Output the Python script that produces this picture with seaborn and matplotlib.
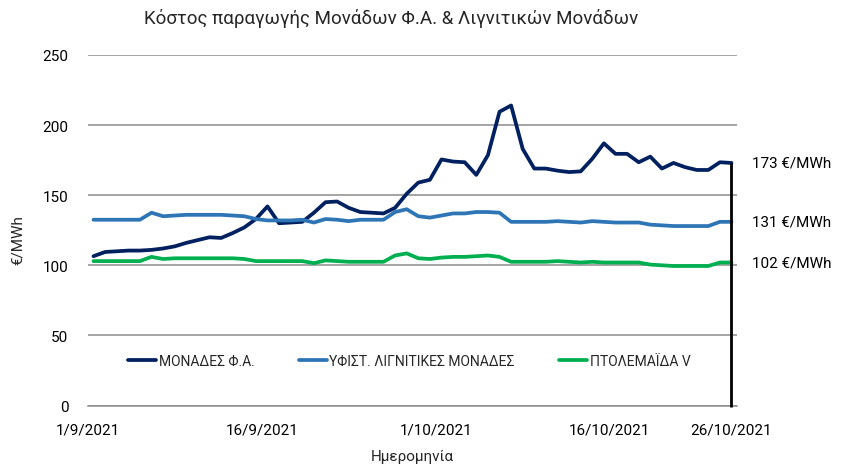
import matplotlib
matplotlib.use("Agg")
import matplotlib.pyplot as plt
import matplotlib.transforms as mtransforms
import seaborn as sns
import pandas as pd
import numpy as np

# ---------------- data ----------------
start_date = "2021-09-01"
end_date = "2021-10-26"

series_names = ["ΜΟΝΑΔΕΣ Φ.Α.", "ΥΦΙΣΤ. ΛΙΓΝΙΤΙΚΕΣ ΜΟΝΑΔΕΣ", "ΠΤΟΛΕΜΑΪΔΑ V"]

gas_units = [106.5, 109.5, 110, 110.5, 110.5, 111, 112, 113.5, 116, 118,
             120, 119.5, 123, 127, 133, 142, 130, 130.5, 131, 137.5,
             145, 145.5, 141, 138, 137.5, 137, 141, 151, 159, 161,
             175.5, 174, 173.5, 164.5, 178.5, 209.5, 214, 183, 169, 169,
             167.5, 166.5, 167, 176, 187, 179.5, 179.5, 173.5, 177.5, 169,
             173, 170, 168, 168, 173.5, 173]

lignite_units = [132.5, 132.5, 132.5, 132.5, 132.5, 137.5, 135, 135.5, 136, 136,
                 136, 136, 135.5, 135, 133, 132, 132, 132, 132.5, 130.5,
                 133, 132.5, 131.5, 132.5, 132.5, 132.5, 138, 140, 135, 134,
                 135.5, 137, 137, 138, 138, 137.5, 131, 131, 131, 131,
                 131.5, 131, 130.5, 131.5, 131, 130.5, 130.5, 130.5, 129, 128.5,
                 128, 128, 128, 128, 131, 131]

ptolemaida_v = [103, 103, 103, 103, 103, 106, 104.5, 105, 105, 105,
                105, 105, 105, 104.5, 103, 103, 103, 103, 103, 101.5,
                103.5, 103, 102.5, 102.5, 102.5, 102.5, 107, 108.5, 105, 104.5,
                105.5, 106, 106, 106.5, 107, 106, 102.5, 102.5, 102.5, 102.5,
                103, 102.5, 102, 102.5, 102, 102, 102, 102, 100.5, 100,
                99.5, 99.5, 99.5, 99.5, 102, 102]

end_labels = ["173 €/MWh", "131 €/MWh", "102 €/MWh"]
tick_dates = ["2021-09-01", "2021-09-16", "2021-10-01", "2021-10-16"]
tick_labels = ["1/9/2021", "16/9/2021", "1/10/2021", "16/10/2021", "26/10/2021"]
y_ticks = [0, 50, 100, 150, 200, 250]

title = "Κόστος παραγωγής Μονάδων Φ.Α. & Λιγνιτικών Μονάδων"
x_label = "Ημερομηνία"
y_label = "€/MWh"

colors = ["#002060", "#2E75B6", "#00B050"]

# ---------------- build frame ----------------
dates = pd.date_range(start_date, end_date, freq="D")
t0 = pd.Timestamp(start_date)
pos = (dates - t0).days.values + 0.5  # each day drawn at its centre

frames = []
for name, vals in zip(series_names, [gas_units, lignite_units, ptolemaida_v]):
    frames.append(pd.DataFrame({"pos": pos, "value": vals, "series": name}))
df = pd.concat(frames, ignore_index=True)

# ---------------- style ----------------
sns.set_theme(style="white")
plt.rcParams["font.family"] = ["Roboto", "DejaVu Sans"]

fig = plt.figure(figsize=(8.48, 4.77), dpi=100)
ax = fig.add_axes([87.7 / 848, 1 - 406.5 / 477, (737.3 - 87.7) / 848, (406.5 - 56) / 477])

sns.lineplot(data=df, x="pos", y="value", hue="series", hue_order=series_names,
             palette=colors, linewidth=2.7, ax=ax, legend=True, zorder=3)

ax.set_ylim(0, 250)
ax.set_xlim(0, 56)
ax.set_yticks(y_ticks)
ax.yaxis.grid(True, color="#8c8c8c", linewidth=1.1)
ax.xaxis.grid(False)
ax.set_axisbelow(True)

tick_pos = [(pd.Timestamp(d) - t0).days for d in tick_dates] + [pos[-1]]
ax.set_xticks(tick_pos)
ax.set_xticklabels(tick_labels)

for s in ["left", "right", "top"]:
    ax.spines[s].set_visible(False)
ax.spines["bottom"].set_color("#8c8c8c")
ax.spines["bottom"].set_linewidth(1.1)

ax.tick_params(axis="x", direction="inout", length=9, width=1.0, color="#8c8c8c",
               labelsize=11, pad=8, labelcolor="black")
ax.tick_params(axis="y", length=0, labelsize=11, pad=14, labelcolor="black")

# drop line at the last date
last_vals = [gas_units[-1], lignite_units[-1], ptolemaida_v[-1]]
ax.vlines(pos[-1], -1, gas_units[-1], color="black", linewidth=2.0, zorder=4, clip_on=False)

# end labels
trans = mtransforms.blended_transform_factory(ax.transAxes, ax.transData)
for lab, v in zip(end_labels, last_vals):
    ax.text(1.0227, v, lab, transform=trans, ha="left", va="center", fontsize=11, color="black")

# labels / title
ax.set_xlabel("")
ax.set_ylabel("")
fig.text(412 / 848, 1 - 457 / 477, x_label, ha="center", va="center", fontsize=11)
fig.text(18 / 848, 1 - 240 / 477, y_label, ha="center", va="center", rotation=90, fontsize=11)
fig.text(391 / 848, 1 - 18 / 477, title, ha="center", va="center", fontsize=13.5)

# legend
handles, labels = ax.get_legend_handles_labels()
for h in handles:
    h.set_linewidth(2.7)
ax.legend(handles, labels, loc="center left", bbox_to_anchor=(128 / 848, 1 - 362 / 477),
          bbox_transform=fig.transFigure, ncol=3, frameon=False, fontsize=10,
          handlelength=2.0, handletextpad=0.2, columnspacing=3.2, borderaxespad=0,
          borderpad=0)

fig.savefig("out.png", dpi=100)
